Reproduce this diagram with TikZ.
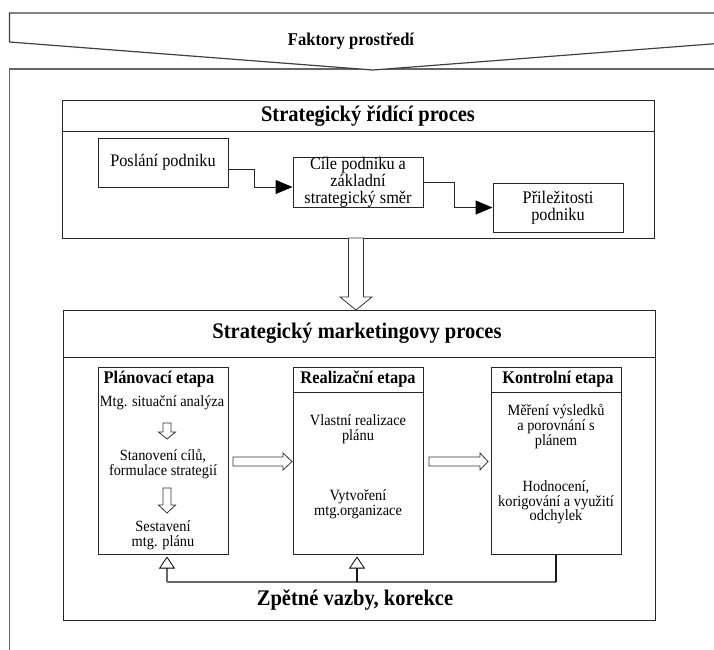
\documentclass[tikz,border=0pt]{standalone}
\usepackage{fontspec}
\setmainfont[FakeStretch=0.92]{Liberation Serif}
\usetikzlibrary{arrows.meta,calc}
\newcommand{\blkdown}[6]{\draw[hol] ({#1-#4},#2) -- ({#1+#4},#2) -- ({#1+#4},{#3-#6}) -- ({#1+#5},{#3-#6}) -- (#1,#3) -- ({#1-#5},{#3-#6}) -- ({#1-#4},{#3-#6}) -- cycle;}
\newcommand{\blkright}[6]{\draw[hol] (#2,{#1-#4}) -- ({#3-#6},{#1-#4}) -- ({#3-#6},{#1-#5}) -- (#3,#1) -- ({#3-#6},{#1+#5}) -- ({#3-#6},{#1+#4}) -- (#2,{#1+#4}) -- cycle;}
\begin{document}
\begin{tikzpicture}[x=1pt,y=-1pt,
 box/.style={draw=black!85,line width=1pt,fill=white,inner sep=0pt,align=center},
 bodyA/.style={font=\fontsize{17.7}{16.8}\selectfont},
 bodyB/.style={font=\fontsize{15.6}{14.6}\selectfont,align=center,inner sep=0pt},
 hdr/.style={font=\bfseries\fontsize{17.8}{18}\selectfont,inner sep=0pt},
 ttl/.style={font=\bfseries\fontsize{22.3}{23}\selectfont,inner sep=0pt},
 conn/.style={draw=black!85,line width=1pt,-{Triangle[length=17pt,width=14pt,color=black]}},
 hol/.style={draw=black!80,line width=0.8pt,fill=white},
 sep/.style={draw=black!85,line width=1pt},
 fbline/.style={draw=black!60,line width=1.4pt},
 fbbold/.style={draw=black!90,line width=2pt},
 optri/.style={-{Triangle[open,length=12pt,width=16pt,line width=0.8pt,color=black]}}]

\useasboundingbox (0,0) rectangle (714,649);
\clip (0,0) rectangle (714,649);
\fill[white] (0,0) rectangle (714,649);

% outer frame and environment banner
\draw[draw=black!60,line width=1.4pt] (9.5,69) rectangle (740,700);
\draw[draw=black!75,line width=1.2pt,fill=white] (9.5,13) -- (9.5,42) -- (373,70) -- (737,42) -- (737,13) -- cycle;
\node[font=\bfseries\fontsize{18}{19}\selectfont,inner sep=0pt] (fak) at (351,41) {Faktory prostředí};

% strategic management process
\node[box,minimum width=592pt,minimum height=138pt] (srp) at (358,169) {};
\draw[sep] (62,131) -- (654,131);
\node[ttl] (srpt) at (368,116) {Strategický řídící proces};

\node[box,bodyA,minimum width=130pt,minimum height=49pt] (pos) at (163,162.5) {Poslání podniku};
\node[box,bodyA,minimum width=130pt,minimum height=49pt] (cil) at (358,182.5) {Cíle podniku a\\základní\\strategický směr};
\node[box,bodyA,minimum width=130pt,minimum height=49pt] (pri) at (558,207.5) {Přiležitosti\\podniku};

\draw[conn] ([yshift=-6.5pt]pos.east) -- ++(26,0) |- ([yshift=-4.5pt]cil.west);
\draw[conn] (cil.east) -- ++(31,0) |- (pri.west);

% big hollow arrow
\blkdown{356}{238}{310}{7.5}{16}{13}

% strategic marketing process
\node[box,minimum width=592pt,minimum height=310pt] (smp) at (359,465) {};
\draw[sep] (63,357) -- (655,357);
\node[ttl] (smpt) at (357,333) {Strategický marketingovy proces};

\node[box,minimum width=130pt,minimum height=187pt] (pl) at (163,460.5) {};
\node[box,minimum width=130pt,minimum height=187pt] (re) at (358,460.5) {};
\node[box,minimum width=130pt,minimum height=187pt] (ko) at (556,460.5) {};
\draw[sep] (293,392) -- (423,392);
\draw[sep] (491,392) -- (621,392);
\node[hdr] (plh) at (159,379) {Plánovací etapa};
\node[hdr] (reh) at (358,379) {Realizační etapa};
\node[hdr] (koh) at (558,379) {Kontrolní etapa};

\node[bodyB] (p1) at (162,403) {Mtg. situační analýza};
\blkdown{167}{423}{439}{4}{8.5}{7}
\node[bodyB] (p2) at (163,464) {Stanovení cílů,\\formulace strategií};
\blkdown{167}{488}{513}{4}{8.5}{8}
\node[bodyB] (p3) at (163,535.5) {Sestavení\\mtg. plánu};

\node[bodyB] (r1) at (358,429) {Vlastní realizace\\plánu};
\node[bodyB] (r2) at (358,504.5) {Vytvoření\\mtg.organizace};

\node[bodyB] (k1) at (556,426.5) {Měření výsledků\\a porovnání s\\plánem};
\node[bodyB] (k2) at (556,502.5) {Hodnocení,\\korigování a využití\\odchylek};

\blkright{461.5}{233}{292}{4.5}{8.5}{9}
\blkright{461.5}{429}{488}{4.5}{8.5}{8}

% feedback
\coordinate (fbl) at (167,582);
\coordinate (fbm) at (357,582);
\coordinate (fbr) at (556,582);
\draw[fbline] (fbl) -- (fbr);
\draw[fbline,optri] (fbl) -- ([yshift=-2pt]fbl |- pl.south);
\draw[fbbold,optri] (fbm) -- ([yshift=-2pt]fbm |- re.south);
\draw[fbbold] (ko.south) -- (fbr);
\node[ttl] (zp) at (355,600) {Zpětné vazby, korekce};
\end{tikzpicture}
\end{document}
